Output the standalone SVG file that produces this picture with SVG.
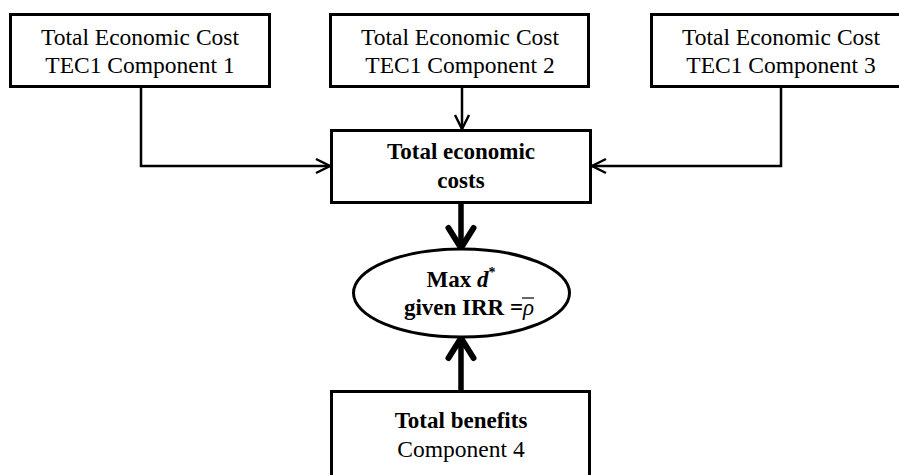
<svg xmlns="http://www.w3.org/2000/svg" width="899" height="475" viewBox="0 0 899 475">
<style>
  .box { fill: #fff; stroke: #000; stroke-width: 3; }
  .t { font-family: "Liberation Serif", "Times New Roman", serif; font-size: 23.5px; fill: #000; text-anchor: middle; }
  .b { font-weight: bold; font-size: 23px; }
  .thin { stroke: #000; stroke-width: 2.5; fill: none; }
  .thick { stroke: #000; stroke-width: 5.5; fill: none; }
</style>
<defs>
  <marker id="ah" markerUnits="userSpaceOnUse" markerWidth="30" markerHeight="30" viewBox="-20 -15 30 30" refX="0" refY="0" orient="auto">
    <path d="M-14,-7 L0,0 L-14,7" fill="none" stroke="#000" stroke-width="2.5" stroke-linejoin="miter"/>
  </marker>
  <marker id="ahb" markerUnits="userSpaceOnUse" markerWidth="40" markerHeight="40" viewBox="-30 -20 40 40" refX="0" refY="0" orient="auto">
    <path d="M-21,-12.5 L-1,0 L-21,12.5" fill="none" stroke="#000" stroke-width="6" stroke-linejoin="round" stroke-linecap="round"/>
  </marker>
</defs>

<g id="connectors">
  <polyline class="thin" points="141,87 141,166 330,166" marker-end="url(#ah)"/>
  <line class="thin" x1="462" y1="87" x2="462" y2="129" marker-end="url(#ah)"/>
  <polyline class="thin" points="781,87 781,166 592,166" marker-end="url(#ah)"/>
  <line class="thick" x1="461" y1="203" x2="461" y2="249" marker-end="url(#ahb)"/>
  <line class="thick" x1="461" y1="391" x2="461" y2="337" marker-end="url(#ahb)"/>
</g>

<g id="tec1">
  <rect class="box" x="10.5" y="14.5" width="259" height="72"/>
  <text class="t" x="140" y="45">Total Economic Cost</text>
  <text class="t" x="140" y="73">TEC1 Component 1</text>
</g>
<g id="tec2">
  <rect class="box" x="330.5" y="14.5" width="258" height="72"/>
  <text class="t" x="460" y="45">Total Economic Cost</text>
  <text class="t" x="460" y="73">TEC1 Component 2</text>
</g>
<g id="tec3">
  <rect class="box" x="651.5" y="14.5" width="260" height="72"/>
  <text class="t" x="781" y="45">Total Economic Cost</text>
  <text class="t" x="781" y="73">TEC1 Component 3</text>
</g>
<g id="total-costs">
  <rect class="box" x="331.5" y="130.5" width="259" height="72"/>
  <text class="t b" x="461" y="159">Total economic</text>
  <text class="t b" x="461" y="188">costs</text>
</g>
<g id="max-d">
  <ellipse class="box" cx="461.5" cy="293" rx="108" ry="44"/>
  <text class="t b" x="461" y="287">Max <tspan font-style="italic">d</tspan><tspan font-size="14" dy="-10">*</tspan></text>
  <text class="t b" x="469" y="315">given IRR =<tspan font-style="italic" font-weight="normal">ρ</tspan></text>
  <line x1="522" y1="298" x2="534" y2="298" stroke="#000" stroke-width="1.2"/>
</g>
<g id="benefits">
  <rect class="box" x="331.5" y="391.5" width="258" height="100"/>
  <text class="t b" x="461" y="428">Total benefits</text>
  <text class="t" x="461" y="457">Component 4</text>
</g>
</svg>
